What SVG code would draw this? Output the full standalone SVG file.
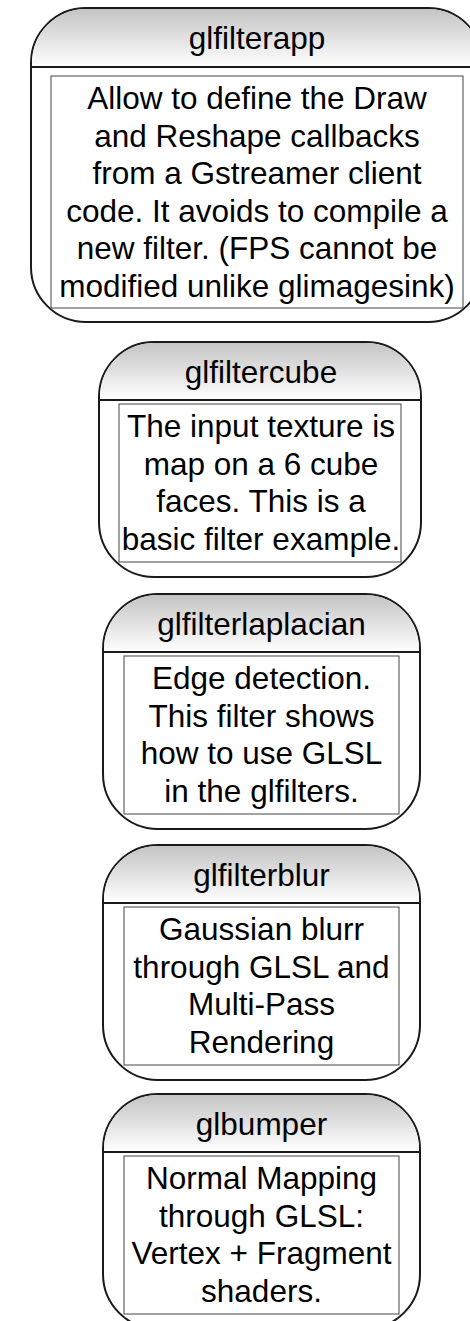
<svg xmlns="http://www.w3.org/2000/svg" width="470" height="1321" viewBox="0 0 470 1321">
  <style>
    .outer { fill: #ffffff; stroke: #1a1a1a; stroke-width: 2; }
    .head { fill: url(#headGrad); stroke: none; }
    .divider { stroke: #1a1a1a; stroke-width: 2; fill: none; }
    .inner { fill: #ffffff; stroke: #444444; stroke-width: 1; }
    .title, .body { font-family: "Liberation Sans", Arial, sans-serif; font-size: 31.5px; fill: #000000; text-anchor: middle; }
  </style>
  <defs>
    <linearGradient id="headGrad" x1="0" y1="0" x2="0" y2="1">
      <stop offset="0" stop-color="#c4c4c4"/>
      <stop offset="1" stop-color="#ffffff"/>
    </linearGradient>
  </defs>
  <rect width="470" height="1321" fill="#ffffff"/>

  <!-- wide top node, runs past the right border -->
  <g id="glfilterapp">
    <rect class="outer" x="31" y="8" width="452" height="314" rx="55" ry="55"/>
    <path class="head" d="M32,67 V63 A54,54 0 0 1 86,9 H428 A54,54 0 0 1 482,63 V67 Z"/>
    <line class="divider" x1="31" y1="67" x2="483" y2="67"/>
    <rect class="inner" x="51" y="76" width="412" height="232"/>
    <text class="title" x="257" y="49">glfilterapp</text>
    <text class="body" x="257" y="109">Allow to define the Draw</text>
    <text class="body" x="257" y="146.5">and Reshape callbacks</text>
    <text class="body" x="257" y="184">from a Gstreamer client</text>
    <text class="body" x="257" y="221.5">code. It avoids to compile a</text>
    <text class="body" x="257" y="259">new filter. (FPS cannot be</text>
    <text class="body" x="257" y="296.5">modified unlike glimagesink)</text>
  </g>

  <g id="glfiltercube" transform="translate(0,342)">
    <rect class="outer" x="99" y="0" width="322" height="235" rx="55" ry="55"/>
    <path class="head" d="M100,58 V55 A54,54 0 0 1 154,1 H366 A54,54 0 0 1 420,55 V58 Z"/>
    <line class="divider" x1="99" y1="58" x2="421" y2="58"/>
    <rect class="inner" x="119" y="62" width="282" height="158"/>
    <text class="title" x="261" y="41">glfiltercube</text>
    <text class="body" x="261" y="95">The input texture is</text>
    <text class="body" x="261" y="132.5">map on a 6 cube</text>
    <text class="body" x="261" y="170">faces. This is a</text>
    <text class="body" x="261" y="207.5">basic filter example.</text>
  </g>

  <g id="glfilterlaplacian" transform="translate(0,594)">
    <rect class="outer" x="103" y="0" width="317" height="235" rx="55" ry="55"/>
    <path class="head" d="M104,58 V55 A54,54 0 0 1 158,1 H365 A54,54 0 0 1 419,55 V58 Z"/>
    <line class="divider" x1="103" y1="58" x2="420" y2="58"/>
    <rect class="inner" x="124" y="62" width="275" height="158"/>
    <text class="title" x="261.5" y="41">glfilterlaplacian</text>
    <text class="body" x="261.5" y="95">Edge detection.</text>
    <text class="body" x="261.5" y="132.5">This filter shows</text>
    <text class="body" x="261.5" y="170">how to use GLSL</text>
    <text class="body" x="261.5" y="207.5">in the glfilters.</text>
  </g>

  <g id="glfilterblur" transform="translate(0,845)">
    <rect class="outer" x="103" y="0" width="317" height="235" rx="55" ry="55"/>
    <path class="head" d="M104,58 V55 A54,54 0 0 1 158,1 H365 A54,54 0 0 1 419,55 V58 Z"/>
    <line class="divider" x1="103" y1="58" x2="420" y2="58"/>
    <rect class="inner" x="124" y="62" width="275" height="158"/>
    <text class="title" x="261.5" y="41">glfilterblur</text>
    <text class="body" x="261.5" y="95">Gaussian blurr</text>
    <text class="body" x="261.5" y="132.5">through GLSL and</text>
    <text class="body" x="261.5" y="170">Multi-Pass</text>
    <text class="body" x="261.5" y="207.5">Rendering</text>
  </g>

  <!-- last node, cut by the bottom border -->
  <g id="glbumper" transform="translate(0,1094)">
    <rect class="outer" x="103" y="0" width="317" height="235" rx="55" ry="55"/>
    <path class="head" d="M104,58 V55 A54,54 0 0 1 158,1 H365 A54,54 0 0 1 419,55 V58 Z"/>
    <line class="divider" x1="103" y1="58" x2="420" y2="58"/>
    <rect class="inner" x="124" y="62" width="275" height="158"/>
    <text class="title" x="261.5" y="41">glbumper</text>
    <text class="body" x="261.5" y="95">Normal Mapping</text>
    <text class="body" x="261.5" y="132.5">through GLSL:</text>
    <text class="body" x="261.5" y="170">Vertex + Fragment</text>
    <text class="body" x="261.5" y="207.5">shaders.</text>
  </g>

  <g id="connectors"/>
</svg>
